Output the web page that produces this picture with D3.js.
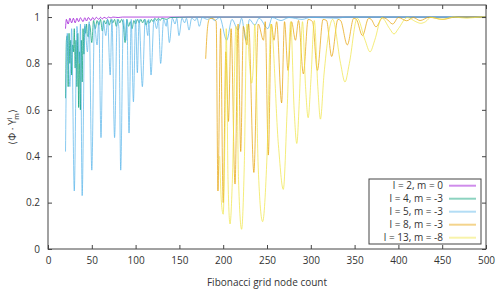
<!DOCTYPE html>
<html><head><meta charset="utf-8">
<script src="https://cdn.jsdelivr.net/npm/d3@7"></script>
<style>body{margin:0;background:#fff}svg{display:block}text{font-family:"Open Sans","Noto Sans",sans-serif}</style>
</head><body><svg id="c" width="500" height="293"></svg>
<script>
const xTicks=[0,50,100,150,200,250,300,350,400,450,500];
const yTicks=[0,0.2,0.4,0.6,0.8,1];
const seriesNames=["l = 2, m = 0","l = 4, m = -3","l = 5, m = -3","l = 8, m = -3","l = 13, m = -8"];
const seriesColors=["#9400d3","#009e73","#56b4e9","#e69f00","#f0e442"];

const l2N=[20,21,23,25,27,29,31,33,35,37,40,42,44,46,49,51,53,55,58,60,62,64,67,69,72,74,80,85,500];
const l2V=[0.95,0.99,0.97,0.995,0.975,0.995,0.975,0.995,0.98,0.997,0.98,0.997,0.983,0.998,0.985,0.998,0.988,0.999,0.99,0.999,0.992,0.999,0.994,1,0.996,1,0.998,1,1];

const l4N=[20,21,22,23,24,25,26,27,28,29,30,31,32,33,34,35,36,37,38,39,40,41,42,43,44,45,46,47,48,50,52,54,56,58,60,62,64,66,68,70,72,74,76,78,80,82,84,86,88,90,92,94,96,98,100,102,104,106,108,110,112,114,116,118,120,122,124,126,128,130,135,140,150,160,500];
const l4V=[0.65,0.9,0.92,0.7,0.93,0.8,0.9,0.75,0.88,0.85,0.95,0.78,0.9,0.7,0.93,0.61,0.85,0.6,0.9,0.72,0.95,0.84,0.96,0.93,0.97,0.92,0.915,0.97,0.96,0.89,0.985,0.95,0.985,0.965,0.99,0.94,0.985,0.97,0.99,0.965,0.99,0.975,0.99,0.96,0.99,0.975,0.99,0.965,0.89,0.99,0.96,0.98,0.95,0.985,0.97,0.99,0.975,0.99,0.975,0.99,0.965,0.985,0.975,0.99,0.98,0.995,0.985,0.995,0.985,0.995,0.99,0.998,0.999,1,1];

const l5N=[20,22,25,27,30,33,36,37,39,42,45,47,50,53,56,58,60.5,63,66,68,71,73,76,79,81,83,86,89,90,92.5,95,97.5,100,102,104,107.7,111,114,115,117.6,121,124,126,128.6,132,135,136,138.5,142,145,147,149.5,153,156,158,161,164,168,170,172.7,176,182,186,190,196,204,210,217,221,226,230,236,241,251,256,266,275,290,300,330,340,500];
const l5V=[0.42,0.93,0.7,0.95,0.25,0.96,0.8,0.97,0.23,0.97,0.85,0.98,0.34,0.97,0.88,0.98,0.48,0.98,0.92,0.99,0.75,0.99,0.48,0.99,0.95,0.34,0.99,0.9,0.99,0.5,0.99,0.635,0.99,0.76,0.99,0.7,0.99,0.92,0.99,0.75,0.99,0.95,0.99,0.8,0.99,0.96,0.99,0.89,0.995,0.97,0.995,0.92,0.995,0.975,0.995,0.944,0.995,0.985,0.998,0.96,0.998,0.99,0.998,0.985,0.998,0.9,0.99,0.944,0.995,0.9,0.99,0.965,0.995,0.95,0.998,0.985,0.998,0.99,0.999,0.995,1,1];

const l8N=[180,182,184,186,190,192,194,197,200,203,206,209,213.5,217,220,223,227,229,235,240,246,248,251.5,255,258,261,266.7,270,274,278,282.5,286,291.5,297,302,307.5,314,318,323.8,331,334,341.7,349,352,359,366,369,374.4,382,386,393.5,400,409.5,417,424.7,435,451,465,500];
const l8V=[0.82,0.95,0.99,0.995,0.99,0.98,0.25,0.95,0.2,0.85,0.55,0.95,0.28,0.97,0.42,0.96,0.88,0.97,0.33,0.97,0.9,0.98,0.405,0.97,0.9,0.98,0.63,0.98,0.77,0.98,0.9,0.985,0.755,0.99,0.98,0.77,0.99,0.985,0.83,0.99,0.985,0.88,0.995,0.99,0.92,0.995,0.99,0.958,0.997,0.993,0.97,0.998,0.984,0.998,0.985,0.999,0.99,1,1];

const l13N=[196,198,200,202,203.5,205.5,207.8,210.5,214.6,217.5,221,224,227,230,232.5,234.5,236,240,245,250,254.5,263,268.6,273,277,281,284,287,290.5,294,297,300,304,308,311,315,325,334,339,344,353,362,367.6,373,381,390,395,400,410,420,425.4,431,437,449,463,478,493,500];
const l13V=[0.4,0.2,0.15,0.5,0.95,0.3,0.108,0.3,0.96,0.3,0.085,0.35,0.97,0.8,0.715,0.8,0.97,0.35,0.118,0.4,0.97,0.45,0.257,0.6,0.98,0.6,0.455,0.65,0.98,0.7,0.566,0.72,0.985,0.7,0.56,0.75,0.99,0.8,0.72,0.8,0.995,0.9,0.85,0.9,0.997,0.95,0.927,0.95,0.998,0.98,0.973,0.98,0.999,0.99,1,0.995,1,1];

const seriesN=[l2N,l4N,l5N,l8N,l13N];
const seriesV=[l2V,l4V,l5V,l8V,l13V];

const svg=d3.select("#c");
const L=48,R=486,T=5,B=249;
const x=d3.scaleLinear().domain([0,500]).range([L,R]);
const y=d3.scaleLinear().domain([0,1.052]).range([B,T]);
const ax="#444";

const line=d3.line().x(d=>x(d[0])).y(d=>y(d[1])).curve(d3.curveMonotoneX);
const plot=svg.append("g");
seriesN.forEach((ns,i)=>{
  const pts=ns.map((n,j)=>[n,seriesV[i][j]]);
  plot.append("path").attr("d",line(pts)).attr("fill","none")
    .attr("stroke",seriesColors[i]).attr("stroke-opacity",0.7).attr("stroke-width",1);
});

// axes
const fs="10px";
const gB=svg.append("g").attr("transform",`translate(0,${B})`).call(d3.axisBottom(x).tickValues(xTicks).tickSizeInner(-4).tickSizeOuter(0).tickPadding(8));
const gT=svg.append("g").attr("transform",`translate(0,${T})`).call(d3.axisTop(x).tickValues(xTicks).tickSizeInner(-4).tickSizeOuter(0).tickFormat(""));
const gL=svg.append("g").attr("transform",`translate(${L},0)`).call(d3.axisLeft(y).tickValues(yTicks).tickSizeInner(-4).tickSizeOuter(0).tickPadding(8).tickFormat(d=>d===0||d===1?String(d):d3.format(".1f")(d)));
const gR=svg.append("g").attr("transform",`translate(${R},0)`).call(d3.axisRight(y).tickValues(yTicks).tickSizeInner(-4).tickSizeOuter(0).tickFormat(""));
[gB,gT,gL,gR].forEach(g=>{
  g.select(".domain").remove();
  g.selectAll("line").attr("stroke",ax);
  g.selectAll("text").attr("fill","#333").style("font-size",fs);
});
svg.append("rect").attr("x",L).attr("y",T).attr("width",R-L).attr("height",B-T)
  .attr("fill","none").attr("stroke",ax).attr("stroke-width",1);

// labels
svg.append("text").attr("x",(L+R)/2).attr("y",286).attr("text-anchor","middle")
  .attr("fill","#333").style("font-size",fs).text("Fibonacci grid node count");
const yl=svg.append("text").attr("transform",`translate(16,${(T+B)/2}) rotate(-90)`)
  .attr("text-anchor","middle").attr("fill","#333").style("font-size",fs);
yl.append("tspan").text("⟨Φ · Y");
yl.append("tspan").attr("dy",-4).style("font-size","7px").text("l");
yl.append("tspan").attr("dy",7).attr("dx",-2).style("font-size","7px").text("m");
yl.append("tspan").attr("dy",-3).text("⟩");

// legend
const lg=svg.append("g");
lg.append("rect").attr("x",369).attr("y",179).attr("width",112).attr("height",65)
  .attr("fill","#fff").attr("stroke",ax).attr("stroke-width",1);
seriesNames.forEach((nm,i)=>{
  const yy=185.7+13*i;
  lg.append("text").attr("x",443).attr("y",yy).attr("dy","0.35em").attr("text-anchor","end")
    .attr("fill","#333").style("font-size",fs).text(nm);
  lg.append("line").attr("x1",449).attr("x2",476).attr("y1",yy).attr("y2",yy)
    .attr("stroke",seriesColors[i]).attr("stroke-opacity",0.45).attr("stroke-width",2);
});
</script></body></html>
